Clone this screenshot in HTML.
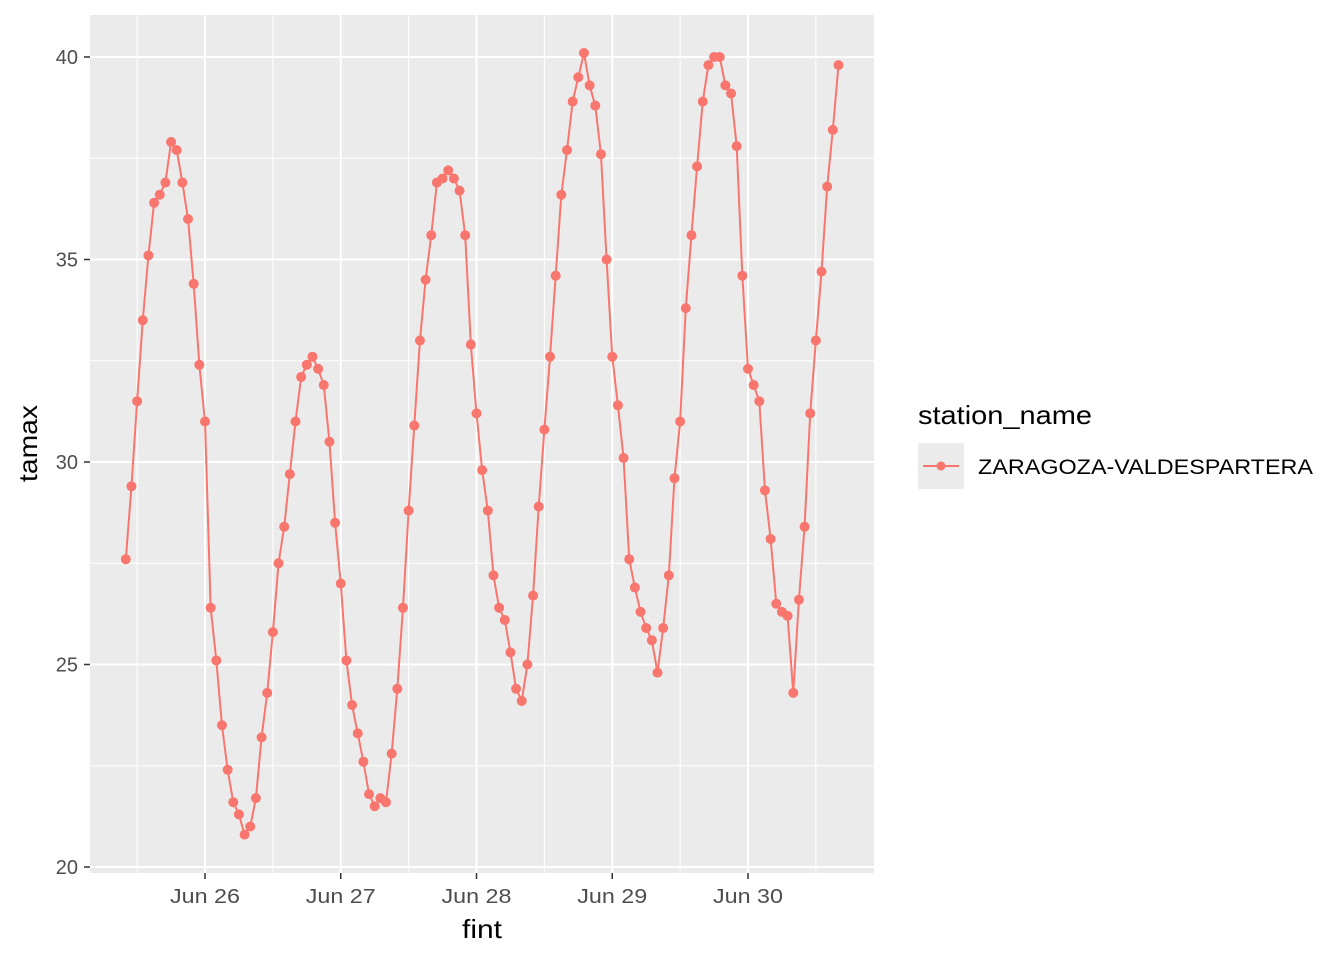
<!DOCTYPE html>
<html><head><meta charset="utf-8"><style>
body{margin:0;background:#fff;font-family:"Liberation Sans",Arial,sans-serif}
svg text{font-family:"Liberation Sans",Arial,sans-serif}
</style></head><body>
<svg id="chart" width="1344" height="960">
<rect x="90" y="15" width="784" height="858" fill="#ebebeb"/>
<g id="grid"></g><g id="axes"></g><g id="series"></g>
<text x="462" y="938" font-size="26" textLength="40" lengthAdjust="spacingAndGlyphs" fill="#000">fint</text>
<text transform="translate(37,482) rotate(-90)" font-size="26" textLength="77" lengthAdjust="spacingAndGlyphs" fill="#000">tamax</text>
<g>
<text x="918" y="424" font-size="26" textLength="174" lengthAdjust="spacingAndGlyphs" fill="#000">station_name</text>
<rect x="918" y="443" width="46" height="46" fill="#ebebeb"/>
<line x1="923" y1="466" x2="959" y2="466" stroke="#f8766d" stroke-width="2"/>
<circle cx="941" cy="466" r="4.5" fill="#f8766d"/>
<text x="978" y="474" font-size="21" textLength="335" lengthAdjust="spacingAndGlyphs" fill="#000">ZARAGOZA-VALDESPARTERA</text>
</g>
</svg>
<script>
const startHourOffset = -14; // hours relative to Jun 26 00:00
const values = [27.6,29.4,31.5,33.5,35.1,36.4,36.6,36.9,37.9,37.7,36.9,36.0,34.4,32.4,31.0,26.4,25.1,23.5,22.4,21.6,21.3,20.8,21.0,21.7,23.2,24.3,25.8,27.5,28.4,29.7,31.0,32.1,32.4,32.6,32.3,31.9,30.5,28.5,27.0,25.1,24.0,23.3,22.6,21.8,21.5,21.7,21.6,22.8,24.4,26.4,28.8,30.9,33.0,34.5,35.6,36.9,37.0,37.2,37.0,36.7,35.6,32.9,31.2,29.8,28.8,27.2,26.4,26.1,25.3,24.4,24.1,25.0,26.7,28.9,30.8,32.6,34.6,36.6,37.7,38.9,39.5,40.1,39.3,38.8,37.6,35.0,32.6,31.4,30.1,27.6,26.9,26.3,25.9,25.6,24.8,25.9,27.2,29.6,31.0,33.8,35.6,37.3,38.9,39.8,40.0,40.0,39.3,39.1,37.8,34.6,32.3,31.9,31.5,29.3,28.1,26.5,26.3,26.2,24.3,26.6,28.4,31.2,33.0,34.7,36.8,38.2,39.8];
const xTickLabels = ["Jun 26","Jun 27","Jun 28","Jun 29","Jun 30"];
const yTicks = [20,25,30,35,40];
const NS="http://www.w3.org/2000/svg";
const xDay = d => 205 + d*135.75;
const xHour = h => xDay(h/24);
const y = v => 867 - (v-20)*40.5;
function mk(tag, attrs, parent){const e=document.createElementNS(NS,tag);for(const k in attrs)e.setAttribute(k,attrs[k]);parent.appendChild(e);return e;}
const grid=document.getElementById('grid'), axes=document.getElementById('axes'), series=document.getElementById('series');
for(let i=0;i<yTicks.length;i++){
  const v=yTicks[i];
  if(i<yTicks.length-1){const m=mk('line',{x1:90,x2:874,y1:y(v+2.5),y2:y(v+2.5),stroke:'#fff','stroke-width':1},grid);
    
    }
  const g=mk('line',{x1:90,x2:874,y1:y(v),y2:y(v),stroke:'#fff','stroke-width':2},grid);
  
  
  const t=mk('line',{x1:84,x2:90,y1:y(v),y2:y(v),stroke:'#333','stroke-width':1.5},axes);
  
  
  const l=mk('text',{x:78,y:y(v)+7,'font-size':20,'text-anchor':'end',fill:'#4d4d4d'},axes);
  l.textContent=v;
  
  
}
for(let i=-1;i<xTickLabels.length;i++){
  const m=mk('line',{x1:xDay(i+0.5),x2:xDay(i+0.5),y1:15,y2:873,stroke:'#fff','stroke-width':1},grid);
  
  
}
for(let i=0;i<xTickLabels.length;i++){
  const g=mk('line',{x1:xDay(i),x2:xDay(i),y1:15,y2:873,stroke:'#fff','stroke-width':2},grid);
  
  
  const t=mk('line',{x1:xDay(i),x2:xDay(i),y1:873,y2:879,stroke:'#333','stroke-width':1.5},axes);
  
  
  const l=mk('text',{x:xDay(i)-35,y:903,'font-size':20,textLength:70,lengthAdjust:'spacingAndGlyphs',fill:'#4d4d4d'},axes);
  l.textContent=xTickLabels[i];
  
  
}
const pts=values.map((v,i)=>xHour(startHourOffset+i).toFixed(2)+','+y(v).toFixed(2)).join(' ');
const pl=mk('polyline',{points:pts,fill:'none',stroke:'#f8766d','stroke-width':2},series);


values.forEach((v,i)=>{
  const c=mk('circle',{cx:xHour(startHourOffset+i),cy:y(v),r:5,fill:'#f8766d'},series);
  
  
});
</script>
</body></html>
